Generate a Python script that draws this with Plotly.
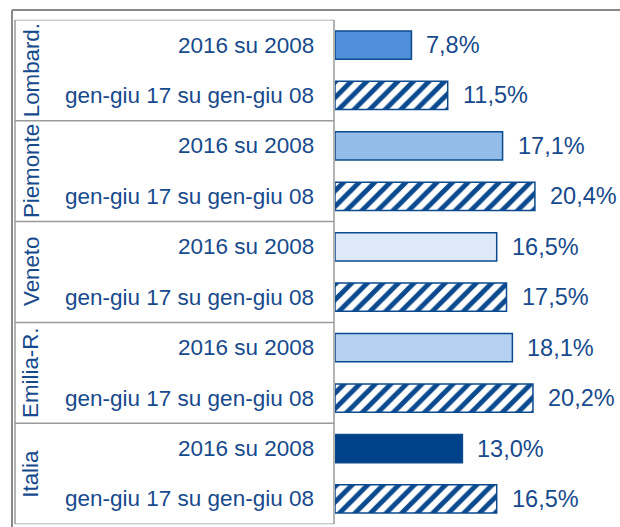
import plotly.graph_objects as go

regions = ["Lombard.", "Piemonte", "Veneto", "Emilia-R.", "Italia"]
periods = ["2016 su 2008", "gen-giu 17 su gen-giu 08"]
v2016 = [7.8, 17.1, 16.5, 18.1, 13.0]
vgen = [11.5, 20.4, 17.5, 20.2, 16.5]
colors2016 = ["#4F8FD9", "#93BCE9", "#DDE9F8", "#B5D1F1", "#00428A"]

W, H = 620, 527
TXT = "#174A8C"
EDGE = "#0B4A8F"
FONT = "Liberation Sans, Arial, sans-serif"

pos2016 = [2 * i for i in range(len(regions))]
posgen = [2 * i + 1 for i in range(len(regions))]

def px(x):
    return x / W

def py(y):
    return (H - y) / H

fig = go.Figure()
fig.add_trace(go.Bar(
    x=v2016, y=pos2016, orientation="h", width=0.56,
    marker=dict(color=colors2016, line=dict(color=EDGE, width=1.5)),
    hoverinfo="x", showlegend=False,
))
fig.add_trace(go.Bar(
    x=vgen, y=posgen, orientation="h", width=0.56,
    marker=dict(color="white", line=dict(color=EDGE, width=1.5),
                pattern=dict(shape="/", fgcolor=EDGE, bgcolor="white", fgopacity=1,
                             size=11, solidity=0.45)),
    hoverinfo="x", showlegend=False,
))

def fmt(v):
    return f"{v:.1f}".replace(".", ",") + "%"

ann = []
for vals, poss in ((v2016, pos2016), (vgen, posgen)):
    for v, p in zip(vals, poss):
        ann.append(dict(x=v, y=p, xref="x", yref="y", text=fmt(v), showarrow=False,
                        xanchor="left", yanchor="middle", xshift=13,
                        font=dict(size=23.5, color=TXT, family=FONT)))
for i, r in enumerate(regions):
    for j, per in enumerate(periods):
        ann.append(dict(x=px(316), y=2 * i + j, xref="paper", yref="y", text=per,
                        showarrow=False, xanchor="right", yanchor="middle",
                        font=dict(size=22.5, color=TXT, family=FONT)))
    ann.append(dict(x=px(31), y=2 * i + 0.5, xref="paper", yref="y", text=r,
                    showarrow=False, textangle=-90, xanchor="center", yanchor="middle",
                    font=dict(size=22.3, color=TXT, family=FONT)))

shapes = []
GRAY = "#9A9A9A"
shapes.append(dict(type="line", xref="paper", yref="paper", x0=px(12), x1=1, y0=py(10), y1=py(10),
                   line=dict(color="#8A8A8A", width=2)))
shapes.append(dict(type="line", xref="paper", yref="paper", x0=px(12), x1=px(12), y0=py(10), y1=0,
                   line=dict(color="#8A8A8A", width=2)))
for b in [-0.5, 1.5, 3.5, 5.5, 7.5, 9.5]:
    shapes.append(dict(type="line", xref="paper", yref="y", x0=px(15), x1=px(334), y0=b, y1=b,
                       line=dict(color=GRAY, width=1.5)))
for xx in (15, 334):
    shapes.append(dict(type="line", xref="paper", yref="y", x0=px(xx), x1=px(xx), y0=-0.5, y1=9.5,
                       line=dict(color=GRAY, width=1.5)))

fig.update_layout(
    width=W, height=H,
    margin=dict(l=0, r=0, t=0, b=0),
    paper_bgcolor="white", plot_bgcolor="white",
    xaxis=dict(domain=[px(335), 1], range=[0, 285 / 9.8], visible=False, fixedrange=True),
    yaxis=dict(domain=[py(524.2), py(19.8)], range=[9.5, -0.5], visible=False, fixedrange=True),
    annotations=ann, shapes=shapes,
    barmode="overlay",
)
fig.write_html(
    "out.html",
    config={"displayModeBar": False},
    post_script="document.body.style.margin='0';document.body.style.overflow='hidden';",
)
